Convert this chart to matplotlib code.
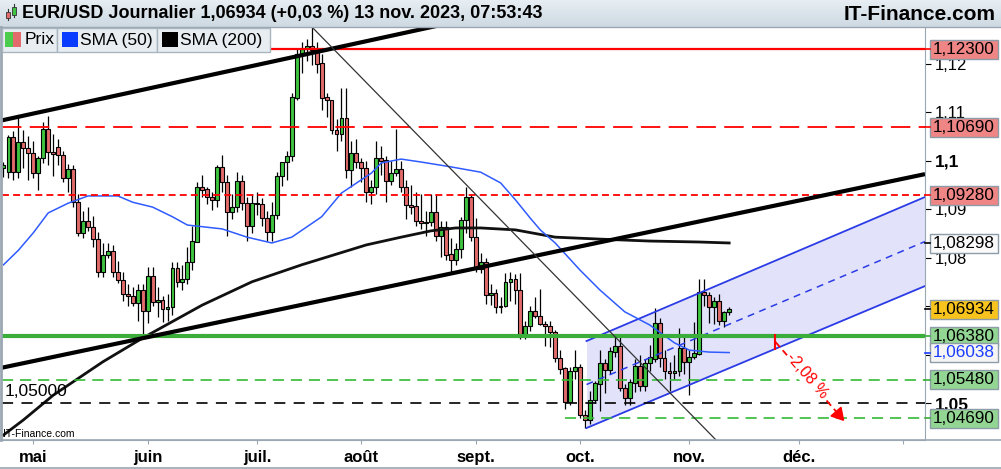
import numpy as np
import pandas as pd
import matplotlib
matplotlib.use("Agg")
import matplotlib.pyplot as plt
from matplotlib.patches import Rectangle
from matplotlib.lines import Line2D
from matplotlib.colors import LinearSegmentedColormap
from matplotlib.transforms import blended_transform_factory

plt.rcParams['font.family'] = ['Liberation Sans', 'DejaVu Sans']
plt.rcParams['lines.scale_dashes'] = False

# --- données journalières EUR/USD (21 avr. -> 13 nov. 2023) ---
start_date = '2023-04-21'
end_date = '2023-11-13'
opens = [1.0985, 1.0977, 1.1048, 1.0976, 1.1038, 1.1025, 1.1015, 1.0975, 1.1005, 1.1065,
         1.1017, 1.1027, 1.1012, 1.0963, 1.0982, 1.0914, 1.0850, 1.0874, 1.0862, 1.0838,
         1.0771, 1.0805, 1.0813, 1.0770, 1.0753, 1.0724, 1.0721, 1.0707, 1.0733, 1.0690,
         1.0762, 1.0708, 1.0713, 1.0693, 1.0698, 1.0779, 1.0750, 1.0755, 1.0790, 1.0833,
         1.0946, 1.0940, 1.0924, 1.0918, 1.0986, 1.0955, 1.0894, 1.0904, 1.0958, 1.0912,
         1.0866, 1.0912, 1.0910, 1.0881, 1.0852, 1.0888, 1.0968, 1.0997, 1.1010, 1.1130,
         1.1220, 1.1230, 1.1236, 1.1228, 1.1200, 1.1130, 1.1124, 1.1063, 1.1055, 1.1088,
         1.0980, 1.1015, 1.0997, 1.0985, 1.0935, 1.0945, 1.1005, 1.1000, 1.0958, 1.0975,
         1.0982, 1.0945, 1.0908, 1.0905, 1.0876, 1.0872, 1.0873, 1.0893, 1.0845, 1.0862,
         1.0806, 1.0795, 1.0818, 1.0878, 1.0924, 1.0842, 1.0776, 1.0790, 1.0722, 1.0726,
         1.0697, 1.0700, 1.0750, 1.0755, 1.0733, 1.0643, 1.0658, 1.0690, 1.0680, 1.0662,
         1.0658, 1.0646, 1.0592, 1.0571, 1.0503, 1.0565, 1.0573, 1.0475, 1.0465, 1.0506,
         1.0540, 1.0583, 1.0568, 1.0606, 1.0617, 1.0530, 1.0510, 1.0542, 1.0576, 1.0536,
         1.0583, 1.0590, 1.0665, 1.0592, 1.0565, 1.0562, 1.0566, 1.0613, 1.0585, 1.0595,
         1.0602, 1.0728, 1.0722, 1.0697, 1.0710, 1.0669, 1.0687]
highs = [1.0998, 1.1053, 1.1060, 1.1092, 1.1062, 1.1050, 1.1040, 1.1010, 1.1080, 1.1092,
         1.1055, 1.1045, 1.1020, 1.0992, 1.0990, 1.0930, 1.0895, 1.0904, 1.0885, 1.0852,
         1.0830, 1.0830, 1.0825, 1.0792, 1.0770, 1.0745, 1.0740, 1.0745, 1.0745, 1.0780,
         1.0780, 1.0740, 1.0720, 1.0725, 1.0790, 1.0790, 1.0785, 1.0822, 1.0865, 1.0955,
         1.0970, 1.0945, 1.0935, 1.0990, 1.1012, 1.0970, 1.0930, 1.0976, 1.0970, 1.0925,
         1.0930, 1.0935, 1.0923, 1.0895, 1.0915, 1.0976, 1.0998, 1.1020, 1.1140, 1.1230,
         1.1245, 1.1250, 1.1276, 1.1245, 1.1220, 1.1140, 1.1125, 1.1085, 1.1150, 1.1150,
         1.1040, 1.1045, 1.1005, 1.1000, 1.0960, 1.1040, 1.1030, 1.1010, 1.1000, 1.1065,
         1.1000, 1.0960, 1.0950, 1.0935, 1.0930, 1.0895, 1.0930, 1.0932, 1.0875, 1.0875,
         1.0840, 1.0830, 1.0883, 1.0945, 1.0930, 1.0882, 1.0810, 1.0800, 1.0745, 1.0735,
         1.0718, 1.0768, 1.0770, 1.0765, 1.0768, 1.0670, 1.0700, 1.0718, 1.0735, 1.0670,
         1.0670, 1.0650, 1.0610, 1.0575, 1.0575, 1.0610, 1.0580, 1.0485, 1.0525, 1.0545,
         1.0610, 1.0590, 1.0615, 1.0640, 1.0640, 1.0540, 1.0550, 1.0590, 1.0600, 1.0590,
         1.0620, 1.0695, 1.0675, 1.0610, 1.0585, 1.0600, 1.0655, 1.0640, 1.0610, 1.0668,
         1.0756, 1.0756, 1.0728, 1.0718, 1.0725, 1.0690, 1.0697]
lows = [1.0966, 1.0963, 1.0960, 1.0965, 1.0985, 1.0960, 1.0965, 1.0940, 1.0995, 1.0990,
        1.0968, 1.0990, 1.0955, 1.0935, 1.0905, 1.0845, 1.0840, 1.0855, 1.0822, 1.0760,
        1.0760, 1.0798, 1.0760, 1.0747, 1.0710, 1.0700, 1.0700, 1.0670, 1.0635, 1.0665,
        1.0700, 1.0677, 1.0668, 1.0670, 1.0682, 1.0740, 1.0733, 1.0745, 1.0775, 1.0832,
        1.0925, 1.0910, 1.0898, 1.0905, 1.0935, 1.0845, 1.0880, 1.0893, 1.0897, 1.0835,
        1.0850, 1.0887, 1.0865, 1.0835, 1.0835, 1.0880, 1.0948, 1.0960, 1.1000, 1.1125,
        1.1180, 1.1205, 1.1198, 1.1180, 1.1105, 1.1090, 1.1055, 1.1020, 1.1040, 1.0965,
        1.0945, 1.0985, 1.0955, 1.0915, 1.0910, 1.0930, 1.0970, 1.0915, 1.0950, 1.0968,
        1.0935, 1.0880, 1.0890, 1.0865, 1.0858, 1.0845, 1.0865, 1.0835, 1.0802, 1.0795,
        1.0766, 1.0785, 1.0800, 1.0850, 1.0835, 1.0770, 1.0768, 1.0705, 1.0703, 1.0685,
        1.0686, 1.0697, 1.0710, 1.0705, 1.0633, 1.0632, 1.0648, 1.0675, 1.0660, 1.0617,
        1.0615, 1.0585, 1.0560, 1.0488, 1.0496, 1.0550, 1.0470, 1.0448, 1.0456, 1.0500,
        1.0483, 1.0520, 1.0560, 1.0595, 1.0525, 1.0496, 1.0495, 1.0522, 1.0525, 1.0525,
        1.0565, 1.0585, 1.0575, 1.0550, 1.0525, 1.0550, 1.0555, 1.0560, 1.0516, 1.0590,
        1.0600, 1.0700, 1.0666, 1.0662, 1.0660, 1.0656, 1.0682]
closes = [1.0990, 1.1048, 1.0976, 1.1038, 1.1025, 1.1015, 1.0975, 1.1005, 1.1065, 1.1017,
          1.1013, 1.1012, 1.0963, 1.0982, 1.0914, 1.0850, 1.0874, 1.0862, 1.0838, 1.0771,
          1.0805, 1.0813, 1.0770, 1.0753, 1.0724, 1.0721, 1.0707, 1.0733, 1.0690, 1.0762,
          1.0708, 1.0713, 1.0693, 1.0698, 1.0779, 1.0750, 1.0755, 1.0790, 1.0833, 1.0946,
          1.0940, 1.0924, 1.0918, 1.0986, 1.0955, 1.0894, 1.0904, 1.0958, 1.0912, 1.0866,
          1.0912, 1.0910, 1.0881, 1.0852, 1.0888, 1.0968, 1.0997, 1.1010, 1.1130, 1.1220,
          1.1230, 1.1236, 1.1228, 1.1200, 1.1130, 1.1124, 1.1063, 1.1055, 1.1088, 1.0980,
          1.1015, 1.0997, 1.0985, 1.0935, 1.0945, 1.1005, 1.1000, 1.0958, 1.0975, 1.0982,
          1.0945, 1.0908, 1.0905, 1.0876, 1.0872, 1.0873, 1.0893, 1.0845, 1.0862, 1.0806,
          1.0795, 1.0818, 1.0878, 1.0924, 1.0842, 1.0776, 1.0790, 1.0722, 1.0726, 1.0697,
          1.0700, 1.0750, 1.0755, 1.0733, 1.0643, 1.0658, 1.0690, 1.0680, 1.0662, 1.0658,
          1.0646, 1.0592, 1.0571, 1.0503, 1.0565, 1.0573, 1.0475, 1.0465, 1.0506, 1.0540,
          1.0583, 1.0568, 1.0606, 1.0617, 1.0530, 1.0510, 1.0542, 1.0576, 1.0536, 1.0583,
          1.0594, 1.0665, 1.0592, 1.0565, 1.0562, 1.0566, 1.0613, 1.0585, 1.0595, 1.0602,
          1.0728, 1.0722, 1.0697, 1.0710, 1.0669, 1.0687, 1.0693]

# moyennes mobiles (indice de séance, valeur)
sma50_idx = [0, 3, 6, 9, 13, 17, 23, 26, 30, 34, 37, 44, 49, 54, 58, 64, 68, 74, 76, 80,
             84, 90, 96, 100, 103, 106, 108, 111, 116, 120, 125, 130, 135, 138, 142, 146]
sma50_val = [1.0785, 1.0815, 1.0851, 1.0892, 1.0912, 1.0927, 1.0927, 1.0914, 1.0904, 1.0884,
             1.0867, 1.0859, 1.0842, 1.0830, 1.0842, 1.0884, 1.0933, 1.0974, 1.0995, 1.1003,
             1.0997, 1.0987, 1.0976, 1.0954, 1.0919, 1.0881, 1.0857, 1.0830, 1.0774, 1.0733,
             1.0688, 1.0661, 1.0624, 1.0609, 1.0605, 1.0604]
sma200_idx = [0, 4, 10, 20, 28, 40, 50, 60, 73, 80, 86, 91, 96, 103, 111, 120, 130, 140, 146]
sma200_val = [1.0434, 1.0465, 1.0516, 1.0585, 1.0634, 1.0702, 1.0750, 1.0785, 1.0826, 1.0842,
              1.0855, 1.0861, 1.0861, 1.0857, 1.0842, 1.0838, 1.0834, 1.0832, 1.0830]

# niveaux horizontaux
lvl_res1 = 1.12300
lvl_res2 = 1.10690
lvl_res3 = 1.09280
lvl_sup1 = 1.06380
lvl_sup2 = 1.05480
lvl_round = 1.05000
lvl_sup3 = 1.04690
last_price = 1.06934
sma50_last = 1.06038
sma200_last = 1.08298

# droites tracées (indice, prix)
trend_up = [(-0.7, 1.1082), (90.0, 1.1284)]
trend_low = [(-0.7, 1.0572), (185.4, 1.0972)]
trend_down = [(62.1, 1.1275), (146.0, 1.0396)]
chan_low = [(117.3, 1.04484), (185.4, 1.07412)]
chan_high = [(117.3, 1.06278), (185.4, 1.09248)]
target_from = (155.3, 1.0626)
target_to = (167.9, 1.0478)
target_text = '-2,08 %'

month_labels = ['mai', 'juin', 'juil.', 'août', 'sept.', 'oct.', 'nov.', 'déc.', '']

days = pd.bdate_range(start_date, end_date)
x = np.arange(len(days))
o = np.array(opens); h = np.array(highs); l = np.array(lows); c = np.array(closes)

W, H = 1001, 469
fig = plt.figure(figsize=(W / 100, H / 100), dpi=100)
fig.patch.set_facecolor('white')

def fx(px):
    return px / W

def fy(py):
    return 1 - py / H

ax = fig.add_axes([fx(2), fy(440), fx(925) - fx(2), fy(27) - fy(440)])
ax.set_xlim(-0.3, 185.4)
ax.set_ylim(1.04237, 1.12754)

# canal bleu
cx = [chan_low[0][0], chan_low[1][0]]
ax.fill_between(cx, [chan_low[0][1], chan_low[1][1]], [chan_high[0][1], chan_high[1][1]],
                color='#e2e2fb', zorder=1, lw=0)
ax.plot(cx, [chan_low[0][1], chan_low[1][1]], color='#2b3be6', lw=1.3, zorder=4)
ax.plot(cx, [chan_high[0][1], chan_high[1][1]], color='#2b3be6', lw=1.3, zorder=4)
ax.plot(cx, [(chan_low[0][1] + chan_high[0][1]) / 2, (chan_low[1][1] + chan_high[1][1]) / 2],
        color='#2b3be6', lw=1.1, ls=(0, (5, 4)), zorder=4)

# bougies
up = c >= o
green = '#3ec43e'
red = '#e36b6b'
ax.vlines(x, l, h, color='black', lw=0.9, zorder=2)
ax.bar(x, np.abs(c - o) + 0.00003, bottom=np.minimum(o, c), width=0.78,
       color=np.where(up, green, red), edgecolor='black', linewidth=0.8, zorder=3)

# moyennes mobiles
ax.plot(sma200_idx, sma200_val, color='#111111', lw=2.0, zorder=5)
ax.plot(sma50_idx, sma50_val, color='#2f5bff', lw=1.1, zorder=5)

# niveaux
ax.plot([53.6, 185.4], [lvl_res1, lvl_res1], color='#ff0000', lw=1.6, zorder=6)
ax.axhline(lvl_res2, color='#ff0000', lw=1.3, ls=(0, (14, 6)), zorder=6)
ax.axhline(lvl_res3, color='#ff0000', lw=1.3, ls=(0, (5, 3)), zorder=6)
ax.axhline(lvl_sup1, color='#3aad3a', lw=3.0, zorder=6)
ax.axhline(lvl_sup2, color='#33bb33', lw=1.2, ls=(0, (8, 5)), zorder=6)
ax.axhline(lvl_round, color='black', lw=1.2, ls=(0, (8, 6)), zorder=6)
ax.plot([113, 185.4], [lvl_sup3, lvl_sup3], color='#33bb33', lw=1.2, ls=(0, (8, 5)), zorder=6)

# obliques
for seg, lw, col in [(trend_up, 3.0, 'black'), (trend_low, 3.0, 'black'), (trend_down, 0.9, '#333333')]:
    ax.plot([seg[0][0], seg[1][0]], [seg[0][1], seg[1][1]], color=col, lw=lw, zorder=7,
            solid_capstyle='butt')

# objectif -2,08 %
ax.plot([target_from[0], target_to[0]], [target_from[1], target_to[1]], color='#ff0000',
        lw=1.3, ls=(0, (5, 3)), zorder=8)
p0 = ax.transData.transform(target_from)
p1 = ax.transData.transform(target_to)
ang = np.degrees(np.arctan2(p1[1] - p0[1], p1[0] - p0[0]))
ax.plot([target_from[0]], [target_from[1]], marker='|', markersize=12, mew=1.5,
        color='#ff0000', zorder=8)
ax.plot([target_to[0]], [target_to[1]], marker=(3, 0, ang - 90), markersize=11,
        color='#ff0000', zorder=8)
ax.text((target_from[0] + target_to[0]) / 2, (target_from[1] + target_to[1]) / 2 + 0.0004,
        target_text, color='#ff0000', fontsize=11.5, rotation=ang, rotation_mode='anchor',
        ha='center', va='center', zorder=9,
        bbox=dict(boxstyle='square,pad=0.05', fc='white', ec='none'))

# axes
for side in ['top', 'left']:
    ax.spines[side].set_visible(False)
ax.spines['right'].set_color('#9aa7b2')
ax.spines['bottom'].set_color('#9aa7b2')
full_days = pd.bdate_range(start_date, '2024-01-10')
month_pos = [i for i in range(1, len(full_days)) if full_days[i].month != full_days[i - 1].month]
ax.set_xticks(month_pos)
ax.set_xticklabels(month_labels, fontsize=12, fontweight='bold')
ax.tick_params(axis='x', direction='out', length=3, color='#9aa7b2', pad=4)
yt = np.round(np.arange(1.05, 1.125, 0.01), 2)
hidden = (1.06, 1.07)  # masqués par les étiquettes de prix
ax.yaxis.tick_right()
ax.set_yticks(yt)
ylabels = ax.set_yticklabels(['' if v in hidden else ('%g' % v).replace('.', ',') for v in yt],
                             fontsize=12)
for lab, v in zip(ylabels, yt):
    if v in (1.1, 1.05):
        lab.set_fontweight('bold')
        lab.set_fontsize(12.5)
ax.tick_params(axis='y', direction='out', length=4, color='black', pad=3)

# cadre extérieur
fig.add_artist(Line2D([0, 1], [fy(440), fy(440)], color='#9aa7b2', lw=1.2))
fig.add_artist(Line2D([0, 1], [fy(468), fy(468)], color='#9aa7b2', lw=1.2))
fig.add_artist(Line2D([fx(1), fx(1)], [fy(440), fy(27)], color='#9aa7b2', lw=2))

# étiquettes de prix à droite
blend = blended_transform_factory(fig.transFigure, ax.transData)
tags = [(lvl_res1, '#f08585', 'black', '#ff0000'),
        (lvl_res2, '#f08585', 'black', '#ff0000'),
        (lvl_res3, '#f08585', 'black', '#ff0000'),
        (sma200_last, '#fafafa', 'black', 'black'),
        (last_price, '#f7c31c', 'black', 'black'),
        (lvl_sup1, '#93d693', 'black', '#3aad3a'),
        (sma50_last, '#f4f4f4', '#1a3cff', '#1a3cff'),
        (lvl_sup2, '#93d693', 'black', '#3aad3a'),
        (lvl_sup3, '#93d693', 'black', '#3aad3a')]
hh = 9.5 / 4849
for val, fc, tc, kc in tags:
    fig.add_artist(Rectangle((fx(930), val - hh), fx(998) - fx(930), 2 * hh, transform=blend,
                             facecolor=fc, edgecolor='#8e9ca8', lw=1, zorder=2))
    fig.add_artist(Line2D([fx(925), fx(930)], [val, val], transform=blend, color=kc, lw=1.2,
                          zorder=2))
    fig.text(fx(964), val, ('%.5f' % val).replace('.', ','), transform=blend, ha='center',
             va='center', fontsize=12.3, color=tc, zorder=3)

# en-tête
hax = fig.add_axes([0, fy(27), 1, fy(0) - fy(27)])
grad = np.linspace(0, 1, 50).reshape(-1, 1)
hax.imshow(grad, aspect='auto', cmap=LinearSegmentedColormap.from_list('h', ['#e8eef3', '#cdd9e2']),
           extent=[0, 1, 0, 1])
hax.set_xlim(0, 1); hax.set_ylim(0, 1)
hax.axis('off')
fig.add_artist(Line2D([0, 1], [fy(27), fy(27)], color='#9aa7b2', lw=1))
fig.text(fx(22), fy(14), 'EUR/USD Journalier 1,06934 (+0,03 %) 13 nov. 2023, 07:53:43',
         fontsize=13.0, fontweight='bold', ha='left', va='center', zorder=3)
fig.text(fx(996), fy(14), 'IT-Finance.com', fontsize=15, fontweight='bold', ha='right',
         va='center', zorder=3)
# icône
fig.add_artist(Line2D([fx(8), fx(8)], [fy(20), fy(9)], color='#333333', lw=0.8, zorder=3))
fig.add_artist(Rectangle((fx(6), fy(18)), fx(4), fy(12) - fy(18), fc='#e36b6b', ec='#333333', lw=0.6, zorder=4))
fig.add_artist(Line2D([fx(14), fx(14)], [fy(17), fy(4)], color='#333333', lw=0.8, zorder=3))
fig.add_artist(Rectangle((fx(12), fy(15)), fx(4), fy(7) - fy(15), fc='#3ec43e', ec='#333333', lw=0.6, zorder=4))

# légende
legend_boxes = [(2, 57, 'Prix', None), (57, 157, 'SMA (50)', '#0a3cff'), (157, 270, 'SMA (200)', 'black')]
for x0, x1, label, col in legend_boxes:
    fig.add_artist(Rectangle((fx(x0), fy(52)), fx(x1) - fx(x0), fy(28) - fy(52), fc='#e7edf1',
                             ec='#a9b5bf', lw=1, zorder=2))
    if col is None:
        fig.add_artist(Rectangle((fx(x0 + 3), fy(47)), fx(8), fy(32) - fy(47), fc='#4ccc4c', lw=0, zorder=3))
        fig.add_artist(Rectangle((fx(x0 + 11), fy(47)), fx(8), fy(32) - fy(47), fc='#e36b6b', lw=0, zorder=3))
    else:
        fig.add_artist(Rectangle((fx(x0 + 5), fy(47)), fx(16), fy(32) - fy(47), fc=col, lw=0, zorder=3))
    fig.text(fx(x0 + 23), fy(40), label, fontsize=12.6, ha='left', va='center', zorder=4)

fig.text(fx(5), fy(392), '1,05000', fontsize=12.5, ha='left', va='center', zorder=4)
fig.text(fx(3), fy(434), 'IT-Finance.com', fontsize=7.5, ha='left', va='center', zorder=4)

fig.savefig('out.png', dpi=100)
